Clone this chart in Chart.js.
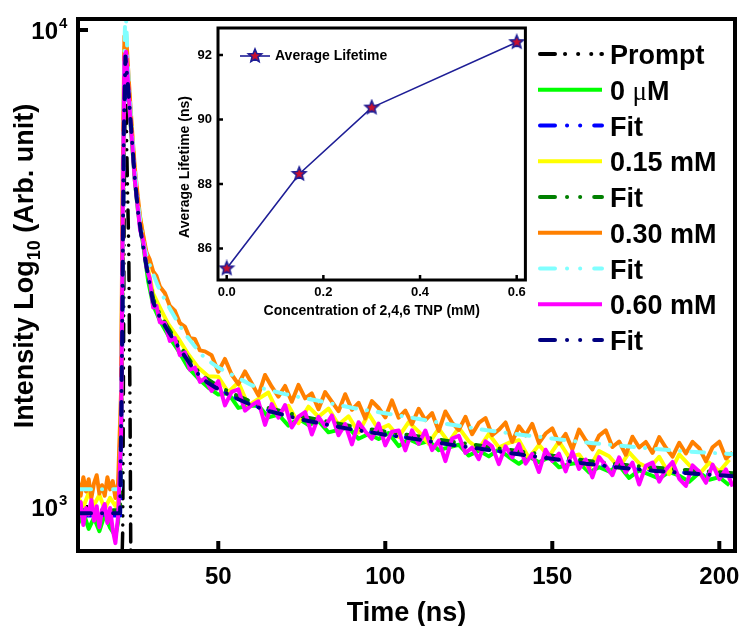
<!DOCTYPE html>
<html>
<head>
<meta charset="utf-8">
<title>Fluorescence decay with 2,4,6 TNP</title>
<script src="https://cdn.jsdelivr.net/npm/chart.js@4.4.1/dist/chart.umd.min.js"></script>
<style>
  body { margin: 0; background: #fff; }
  #wrap { position: relative; width: 739px; height: 626px; }
  #decay { position: absolute; left: 0; top: 0; }
  #inset { position: absolute; left: 165px; top: 18px; }
</style>
</head>
<body>
<div id="wrap">
  <canvas id="decay" width="739" height="626"></canvas>
  <canvas id="inset" width="370" height="310"></canvas>
</div>
<script>
// ---- main decay data (time in ns, counts) ----
const denseTimeNs = [8.0, 8.8, 9.6, 10.4, 11.2, 12.0, 12.8, 13.6, 14.4, 15.2, 16.0, 16.8, 17.6, 18.4, 19.2, 20.0,
  20.9, 21.4, 21.9, 22.4, 23.0, 23.6, 24.3, 25.0, 25.8, 26.6, 27.5, 28.5, 29.5, 30.5, 31.5, 32.5, 34.0, 35.5, 37.0, 38.5, 40.0, 41.5, 43.0, 44.5, 46.0,
  48, 50, 52, 54, 56, 58, 60, 62, 64, 66, 68, 70, 72, 74, 76, 78, 80, 82, 84, 86, 88, 90, 92, 94, 96, 98,
  100, 102, 104, 106, 108, 110, 112, 114, 116, 118, 120, 122, 124, 126, 128, 130, 132, 134, 136, 138, 140, 142, 144, 146, 148,
  150, 152, 154, 156, 158, 160, 162, 164, 166, 168, 170, 172, 174, 176, 178, 180, 182, 184, 186, 188, 190, 192, 194, 196, 198, 200, 202, 204];

// 0.30 mM (orange)
const counts030mM = [1133, 1056, 1155, 1078, 1144, 1045, 1122, 1166, 1067, 1111, 1056, 1155, 1089, 1133, 1045, 1122,
  1750, 5000, 9700, 9800, 8300, 7100, 6000, 5150, 4550, 4050, 3720, 3420, 3300, 3120, 3050, 2900, 2810, 2640, 2580, 2430, 2390, 2260, 2250, 2130, 2120,
  2080, 1921, 2044, 1896, 1810, 1924, 1818, 1714, 1892, 1788,
  1704, 1794, 1662, 1803, 1690, 1730, 1603, 1742, 1664, 1588,
  1724, 1599, 1654, 1534, 1668, 1613, 1541, 1673, 1539, 1593,
  1492, 1607, 1521, 1574, 1444, 1586, 1502, 1450, 1546, 1421,
  1501, 1537, 1415, 1452, 1504, 1369, 1477, 1414, 1494, 1361,
  1426, 1462, 1359, 1423, 1321, 1453, 1380, 1321, 1412, 1448,
  1336, 1372, 1287, 1404, 1333, 1369, 1299, 1401, 1331, 1276,
  1363, 1295, 1370, 1328, 1247, 1335, 1371, 1264, 1301];

// 0.60 mM (magenta)
const counts060mM = [946, 1024, 917, 995, 965, 1034, 936, 1004, 907, 985, 1014, 926, 995, 897, 840, 956,
  1400, 4200, 8800, 9000, 7700, 6600, 5700, 4850, 4300, 3800, 3620, 3180, 3010, 2620, 2640, 2440, 2430, 2230, 2260, 2080, 2110, 1940, 1960, 1830, 1860,
  1751, 1836, 1633, 1743, 1765, 1593, 1635, 1666, 1487, 1644,
  1540, 1636, 1468, 1547, 1581, 1419, 1545, 1476, 1556, 1414,
  1493, 1353, 1506, 1440, 1390, 1496, 1347, 1439, 1447, 1314,
  1448, 1357, 1447, 1316, 1378, 1248, 1391, 1411, 1298, 1332,
  1260, 1373, 1340, 1230, 1341, 1270, 1355, 1233, 1292, 1184,
  1319, 1249, 1294, 1188, 1307, 1202, 1258, 1154, 1273, 1219,
  1166, 1271, 1182, 1239, 1115, 1220, 1240, 1130, 1198, 1243,
  1146, 1107, 1223, 1186, 1124, 1227, 1144, 1199, 1104];

const sparseTimeNs = [8.0, 9.6, 11.2, 12.8, 14.4, 16.0, 17.6, 19.2, 20.0,
  20.9, 21.4, 21.9, 22.4, 23.0, 24.0, 25.0, 26.0, 27.5, 29.0, 30.5, 32.5, 35.0, 38.0, 41.0, 44.0, 47.0,
  50, 53, 56, 59, 62, 65, 68, 71, 74, 77, 80, 83, 86, 89, 92, 95, 98, 101, 104, 107, 110, 113, 116, 119,
  122, 125, 128, 131, 134, 137, 140, 143, 146, 149, 152, 155, 158, 161, 164, 167, 170, 173, 176, 179,
  182, 185, 188, 191, 194, 197, 200, 203];

// 0 uM (green)
const counts0uM = [920, 975, 900, 950, 890, 965, 905, 870, 930,
  1450, 4100, 8600, 8700, 7500, 6000, 4850, 4150, 3550, 2980, 2650, 2460, 2290, 2130, 1960, 1860, 1780,
  1721, 1732, 1614, 1631, 1633, 1542, 1563, 1481, 1532, 1485,
  1515, 1434, 1451, 1467, 1390, 1423, 1389, 1429, 1342, 1388,
  1357, 1375, 1316, 1334, 1351, 1282, 1313, 1277, 1321, 1273,
  1232, 1276, 1241, 1271, 1212, 1229, 1239, 1182, 1212, 1187,
  1222, 1151, 1193, 1170, 1147, 1185, 1163, 1130, 1180, 1141,
  1155, 1111];

// 0.15 mM (yellow)
const counts015mM = [1050, 1000, 1070, 1010, 1060, 990, 1045, 1005, 1030,
  1600, 4500, 9200, 9300, 7900, 6300, 5050, 4300, 3700, 3150, 2800, 2620, 2420, 2260, 2090, 1960, 1880,
  1875, 1740, 1825, 1632, 1685, 1738, 1570, 1630, 1499, 1623,
  1546, 1609, 1488, 1550, 1432, 1569, 1453, 1486, 1403, 1507,
  1439, 1358, 1460, 1366, 1467, 1374, 1323, 1423, 1333, 1364,
  1381, 1267, 1350, 1277, 1372, 1272, 1289, 1204, 1310, 1278,
  1209, 1302, 1235, 1205, 1274, 1172, 1290, 1224, 1172, 1239,
  1187, 1256];

// fitted decays
const fitTimeNs = [8.0, 20.6, 21.2, 21.7, 22.2, 23, 24, 25, 26, 27, 28, 29, 30.5, 32, 34, 36, 38, 40, 43, 46,
  50, 55, 60, 65, 70, 75, 80, 90, 100, 110, 120, 130, 140, 150, 160, 170, 180, 190, 204.7];
const fit0uM = [960, 960, 2100, 5800, 8800, 7700, 6150, 4950, 4180, 3720, 3370, 3070, 2700, 2550, 2410, 2290, 2180, 2080, 1940, 1850,
  1772, 1700, 1640, 1595, 1562, 1530, 1505, 1460, 1422, 1388, 1353, 1322, 1292, 1264, 1236, 1213, 1195, 1180, 1162];
const fit015mM = [985, 985, 2250, 6100, 8950, 7720, 6190, 4975, 4210, 3755, 3400, 3095, 2730, 2578, 2436, 2314, 2203, 2101, 1959, 1868,
  1791, 1720, 1660, 1614, 1581, 1548, 1523, 1477, 1439, 1406, 1370, 1340, 1309, 1281, 1251, 1228, 1210, 1196, 1177];
const fit030mM = [1090, 1090, 2500, 7500, 11500, 8200, 6300, 5100, 4300, 3800, 3480, 3280, 3080, 2900, 2720, 2570, 2430, 2310, 2170, 2050,
  1960, 1880, 1800, 1760, 1725, 1695, 1670, 1615, 1572, 1530, 1487, 1450, 1420, 1392, 1366, 1345, 1325, 1308, 1290];
const fit060mM = [970, 970, 2200, 6000, 8800, 7600, 6100, 4900, 4150, 3700, 3350, 3050, 2690, 2540, 2400, 2280, 2170, 2070, 1930, 1840,
  1765, 1695, 1635, 1590, 1558, 1525, 1500, 1455, 1418, 1385, 1350, 1320, 1290, 1262, 1233, 1210, 1192, 1178, 1160];

// instrument response
const promptTimeNs = [8.0, 20.8, 21.4, 21.8, 22.2, 22.6, 23.2, 23.6, 23.8, 24.2];
const promptCounts = [600, 600, 900, 4000, 9500, 5600, 3450, 1530, 800, 600];

const xTickValues = [50, 100, 150, 200];
const yTickValues = [1000, 10000];

const seriesLabels = ['Prompt', '0 \u03bcM', 'Fit', '0.15 mM', 'Fit', '0.30 mM', 'Fit', '0.60 mM', 'Fit'];
const seriesColors = ['#000000', '#00ff00', '#0000ff', '#ffff00', '#008000', '#ff8000', '#80ffff', '#ff00ff', '#000080'];
const seriesKinds = ['prompt', 'data', 'fit', 'data', 'fit', 'data', 'fit', 'data', 'fit'];

// ---- inset data ----
const concentrationMM = [0, 0.15, 0.3, 0.6];
const avgLifetimeNs = [85.38, 88.31, 90.37, 92.40];
const insetXTicks = [0, 0.2, 0.4, 0.6];
const insetYTicks = [86, 88, 90, 92];

const FONT = '"Liberation Sans", Arial, sans-serif';
Chart.defaults.font.family = FONT;
Chart.defaults.color = '#000';

function pts(xs, ys) {
  return xs.map((x, i) => ({ x: x, y: ys[i] }));
}

const plotDash = { prompt: [18, 8, 0.1, 9, 0.1, 9, 0.1, 8], fit: [13, 11, 0.1, 11], data: [] };
const legendDash = { prompt: [15, 10, 0.1, 13, 0.1, 13, 0.1, 10], fit: [15, 12, 0.1, 13, 0.1, 14], data: [] };

// keep the plot box where it is, even if edge labels stick out
function noEdgePadding(s) {
  s.paddingLeft = 0;
  s.paddingRight = 0;
  s.paddingTop = 0;
  s.paddingBottom = 0;
}

// inward tick marks on bottom and left axes
function drawTicks(chart, len, width) {
  const { ctx, chartArea: a, scales } = chart;
  ctx.save();
  ctx.strokeStyle = '#000';
  ctx.lineWidth = width;
  ctx.beginPath();
  scales.x.ticks.forEach(t => {
    const px = scales.x.getPixelForValue(t.value);
    ctx.moveTo(px, a.bottom);
    ctx.lineTo(px, a.bottom - len);
  });
  scales.y.ticks.forEach(t => {
    const py = scales.y.getPixelForValue(t.value);
    ctx.moveTo(a.left, py);
    ctx.lineTo(a.left + len, py);
  });
  ctx.stroke();
  ctx.restore();
}

function drawFrame(chart, width) {
  const { ctx, chartArea: a } = chart;
  ctx.save();
  ctx.strokeStyle = '#000';
  ctx.lineWidth = width;
  ctx.strokeRect(a.left, a.top, a.right - a.left, a.bottom - a.top);
  ctx.restore();
}

// star marker for the inset
function makeStar(r, fill, stroke) {
  const c = document.createElement('canvas');
  const s = Math.ceil(r * 2 + 4);
  c.width = s; c.height = s;
  const g = c.getContext('2d');
  g.beginPath();
  for (let i = 0; i < 10; i++) {
    const ang = -Math.PI / 2 + i * Math.PI / 5;
    const rr = i % 2 ? r * 0.45 : r;
    g.lineTo(s / 2 + rr * Math.cos(ang), s / 2 + rr * Math.sin(ang));
  }
  g.closePath();
  g.fillStyle = fill;
  g.fill();
  g.lineWidth = 1.6;
  g.strokeStyle = stroke;
  g.stroke();
  return c;
}
const starImg = makeStar(7, '#c8102e', '#1e1e96');

// ---- main chart ----
const decayDecor = {
  id: 'decayDecor',
  beforeDatasetsDraw(chart) { drawTicks(chart, 10, 4); },
  afterDatasetsDraw(chart) { drawFrame(chart, 4); },
  afterDraw(chart) {
    const ctx = chart.ctx;
    const y = chart.scales.y;
    ctx.save();
    ctx.fillStyle = '#000';

    // 10^n labels
    yTickValues.forEach(v => {
      const py = y.getPixelForValue(v);
      ctx.font = 'bold 24px ' + FONT;
      ctx.textAlign = 'right';
      ctx.textBaseline = 'middle';
      ctx.fillText('10', 58, py + 2);
      ctx.font = 'bold 15px ' + FONT;
      ctx.textAlign = 'left';
      ctx.fillText(String(Math.round(Math.log10(v))), 59, py - 6);
    });

    // y title with subscript
    const parts = [['Intensity Log', 27, 0], ['10', 18, 7], [' (Arb. unit)', 27, 0]];
    ctx.save();
    ctx.translate(23.5, 266);
    ctx.rotate(-Math.PI / 2);
    ctx.textAlign = 'left';
    ctx.textBaseline = 'alphabetic';
    let total = 0;
    parts.forEach(p => { ctx.font = 'bold ' + p[1] + 'px ' + FONT; total += ctx.measureText(p[0]).width; });
    let cx = -total / 2;
    parts.forEach(p => {
      ctx.font = 'bold ' + p[1] + 'px ' + FONT;
      ctx.fillText(p[0], cx, 9.7 + p[2]);
      cx += ctx.measureText(p[0]).width;
    });
    ctx.restore();

    // legend
    seriesLabels.forEach((label, i) => {
      const yy = 54 + i * 35.75;
      const kind = seriesKinds[i];
      ctx.beginPath();
      ctx.setLineDash(legendDash[kind]);
      ctx.lineCap = kind === 'data' ? 'butt' : 'round';
      ctx.lineWidth = 4;
      ctx.strokeStyle = seriesColors[i];
      ctx.moveTo(kind === 'data' ? 538 : 540, yy);
      ctx.lineTo(602, yy);
      ctx.stroke();
      ctx.setLineDash([]);
      ctx.textAlign = 'left';
      ctx.textBaseline = 'alphabetic';
      let tx = 610;
      for (const ch of label) {
        ctx.font = ch === '\u03bc' ? '27px "Liberation Serif", serif' : 'bold 27px ' + FONT;
        ctx.fillText(ch, tx, yy + 10);
        tx += ctx.measureText(ch).width;
      }
    });
    ctx.restore();
  }
};

const decayData = [
  pts(promptTimeNs, promptCounts),
  pts(sparseTimeNs, counts0uM),
  pts(fitTimeNs, fit0uM),
  pts(sparseTimeNs, counts015mM),
  pts(fitTimeNs, fit015mM),
  pts(denseTimeNs, counts030mM),
  pts(fitTimeNs, fit030mM),
  pts(denseTimeNs, counts060mM),
  pts(fitTimeNs, fit060mM)
];

new Chart(document.getElementById('decay'), {
  type: 'line',
  data: {
    datasets: decayData.map((d, i) => ({
      label: seriesLabels[i],
      data: d,
      borderColor: seriesColors[i],
      borderWidth: seriesKinds[i] === 'data' ? 4 : (seriesKinds[i] === 'fit' ? 4 : 3.5),
      borderDash: plotDash[seriesKinds[i]],
      borderCapStyle: seriesKinds[i] === 'data' ? 'butt' : 'round',
      borderJoinStyle: 'round',
      pointRadius: 0,
      tension: 0,
      fill: false,
      clip: 2,
      order: seriesLabels.length - i
    }))
  },
  options: {
    responsive: false,
    devicePixelRatio: 1,
    animation: false,
    events: [],
    layout: { padding: { top: 19, right: 4, left: 0, bottom: 0 } },
    plugins: { legend: { display: false }, tooltip: { enabled: false } },
    scales: {
      x: {
        type: 'linear',
        min: 8.0,
        max: 204.7,
        afterBuildTicks: s => { s.ticks = xTickValues.map(v => ({ value: v })); },
        afterFit: s => { s.height = 75; noEdgePadding(s); },
        grid: { display: false, drawTicks: false },
        border: { display: false },
        ticks: { font: { size: 24, weight: 'bold' }, color: '#000', padding: 12, maxRotation: 0, autoSkip: false,
          callback: v => String(v) },
        title: { display: true, text: 'Time (ns)', color: '#000',
          font: { size: 27, weight: 'bold', lineHeight: 0.92 }, padding: { top: 0, bottom: 0 } }
      },
      y: {
        type: 'logarithmic',
        min: 808.8,
        max: 10546,
        afterBuildTicks: s => { s.ticks = yTickValues.map(v => ({ value: v })); },
        afterFit: s => { s.width = 78; noEdgePadding(s); },
        grid: { display: false, drawTicks: false },
        border: { display: false },
        ticks: { display: false }
      }
    }
  },
  plugins: [decayDecor]
});

// ---- inset chart ----
const insetDecor = {
  id: 'insetDecor',
  beforeDatasetsDraw(chart) { drawTicks(chart, 5, 2.5); },
  afterDatasetsDraw(chart) { drawFrame(chart, 3); },
  afterDraw(chart) {
    const ctx = chart.ctx;
    ctx.save();
    ctx.fillStyle = '#000';
    // y title
    ctx.save();
    ctx.translate(20, 149);
    ctx.rotate(-Math.PI / 2);
    ctx.font = 'bold 14px ' + FONT;
    ctx.textAlign = 'center';
    ctx.textBaseline = 'middle';
    ctx.fillText('Average Lifetime (ns)', 0, 0);
    ctx.restore();
    // legend entry
    ctx.beginPath();
    ctx.strokeStyle = '#1e1e96';
    ctx.lineWidth = 1.6;
    ctx.moveTo(75, 38);
    ctx.lineTo(105, 38);
    ctx.stroke();
    ctx.drawImage(starImg, 90 - starImg.width / 2, 38 - starImg.height / 2);
    ctx.font = 'bold 14px ' + FONT;
    ctx.textAlign = 'left';
    ctx.textBaseline = 'middle';
    ctx.fillText('Average Lifetime', 110, 38);
    ctx.restore();
  }
};

new Chart(document.getElementById('inset'), {
  type: 'line',
  data: {
    datasets: [{
      label: 'Average Lifetime',
      data: pts(concentrationMM, avgLifetimeNs),
      borderColor: '#1e1e96',
      borderWidth: 1.6,
      pointStyle: starImg,
      pointRadius: 8,
      tension: 0,
      fill: false,
      clip: false
    }]
  },
  options: {
    responsive: false,
    devicePixelRatio: 1,
    animation: false,
    events: [],
    layout: { padding: { top: 10, right: 8, left: 0, bottom: 0 } },
    plugins: { legend: { display: false }, tooltip: { enabled: false } },
    scales: {
      x: {
        type: 'linear',
        min: -0.018,
        max: 0.618,
        afterBuildTicks: s => { s.ticks = insetXTicks.map(v => ({ value: v })); },
        afterFit: s => { s.height = 48; noEdgePadding(s); },
        grid: { display: false, drawTicks: false },
        border: { display: false },
        ticks: { font: { size: 13, weight: 'bold' }, color: '#000', padding: 5, maxRotation: 0, autoSkip: false,
          callback: v => v.toFixed(1) },
        title: { display: true, text: 'Concentration of 2,4,6 TNP (mM)', color: '#000',
          font: { size: 14, weight: 'bold' }, padding: { top: 0, bottom: 8 } }
      },
      y: {
        type: 'linear',
        min: 85.02,
        max: 92.84,
        afterBuildTicks: s => { s.ticks = insetYTicks.map(v => ({ value: v })); },
        afterFit: s => { s.width = 53; noEdgePadding(s); },
        grid: { display: false, drawTicks: false },
        border: { display: false },
        ticks: { font: { size: 13, weight: 'bold' }, color: '#000', padding: 6, callback: v => String(v) }
      }
    }
  },
  plugins: [insetDecor]
});
</script>
</body>
</html>
